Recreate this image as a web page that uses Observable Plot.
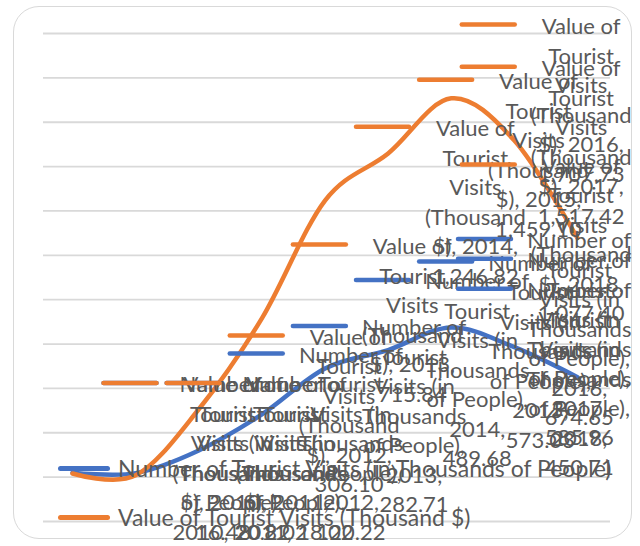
<!DOCTYPE html>
<html>
<head>
<meta charset="utf-8">
<script src="https://cdn.jsdelivr.net/npm/d3@7"></script>
<script src="https://cdn.jsdelivr.net/npm/@observablehq/plot@0.6"></script>
<style>
  html, body { margin: 0; padding: 0; background: #fff; }
  #wrap { position: relative; width: 640px; height: 546px; overflow: hidden; font-family: Lato, sans-serif; }
  #frameBox { position: absolute; left: 13px; top: 6px; width: 619px; height: 533px; border: 1.6px solid #d9d9d9; border-radius: 26px; box-sizing: border-box; }
  #caption { position: absolute; left: 300px; top: -29px; font-family: "Liberation Serif", serif; font-size: 26px; line-height: 30px; color: #000; white-space: nowrap; }
  #chart { position: absolute; left: 0; top: 0; }
  .leg { position: absolute; left: 58px; display: flex; align-items: center; white-space: nowrap; font-size: 23px; color: #595959; }
  .leg .key { width: 52px; height: 5px; border-radius: 3px; margin-right: 8px; }
</style>
</head>
<body>
<div id="wrap">
  <div id="caption">(Figure 1)</div>
  <div id="frameBox"></div>
  <div id="chart"></div>
</div>
<script>
// ---------------- data ----------------
const years = [2010, 2011, 2012, 2013, 2014, 2015, 2016, 2017, 2018];
const numberOfVisits = [20.22, 18.02, 120.22, 282.71, 489.68, 573.03, 674.65, 585.96, 450.71];
const valueOfVisits = [16.48, 8.02, 306.10, 715.84, 1246.82, 1459.10, 1707.73, 1517.42, 1077.40];
const seriesNames = ["Number of Tourist Visits (in Thousands of People)", "Value of Tourist Visits (Thousand $)"];
const gridTicks = [-200, 0, 200, 400, 600, 800, 1000, 1200, 1400, 1600, 1800, 2000];

// ---------------- styles / layout ----------------
const colors = ["#4472C4", "#ED7D31"];
const FS = 22, LH = 29.5;
const KEY = 53, GAP = 16;
const textFill = "#595959";
const xOpts = {type: "linear", domain: [2010, 2018], range: [72, 577]};
const yOpts = {type: "linear", domain: [-200, 2000], range: [521, 33]};

const series = [
  {name: seriesNames[0], values: numberOfVisits, color: colors[0]},
  {name: seriesNames[1], values: valueOfVisits, color: colors[1]}
];

let xs, ys;
try { xs = Plot.scale({x: xOpts}); ys = Plot.scale({y: yOpts}); }
catch (e) { const a = d3.scaleLinear(xOpts.domain, xOpts.range), b = d3.scaleLinear(yOpts.domain, yOpts.range); xs = {apply: a}; ys = {apply: b}; }

const ctx = document.createElement("canvas").getContext("2d");
ctx.font = `${FS}px Lato`;
const tw = s => ctx.measureText(s).width;
// wrap width: a short "year, value" pair fits on one line, "Tourist Visits" does not
const WRAP = Math.min(tw("2010, 20.22") + 1.5, tw("Tourist Visits") - 0.5);
function wrap(str) {
  const words = str.split(" ");
  const lines = [];
  let cur = "";
  for (const w of words) {
    const t = cur ? cur + " " + w : w;
    if (cur && tw(t) > WRAP) { lines.push(cur); cur = w; } else cur = t;
  }
  if (cur) lines.push(cur);
  return lines;
}
const fmt = d3.format(",.2f");

const keySymbol = {draw(context) { context.moveTo(0, 0); context.lineTo(KEY, 0); }};

const marks = [Plot.ruleY(gridTicks, {stroke: "#d9d9d9", strokeWidth: 1.8})];

for (const s of series) {
  const rows = years.map((year, i) => ({year, value: s.values[i]}));
  marks.push(Plot.line(rows, {x: "year", y: "value", stroke: s.color, strokeWidth: 4.5, curve: "cardinal", strokeLinecap: "round", strokeLinejoin: "round"}));
}

for (const s of series) {
  years.forEach((year, i) => {
    const value = s.values[i];
    const row = {year, value};
    const px = xs.apply(year), py = ys.apply(value);
    const lines = wrap(`${s.name}, ${year}, ${fmt(value)}`);
    const n = lines.length;
    const boxW = d3.max(lines, tw);
    const keyLeft = Math.min(px + 31, 631 - (KEY + GAP + boxW));
    let cy = py;
    let top = cy - (n - 1) / 2 * LH;
    if (top < 22) { cy += 22 - top; top = 22; }
    let bottom = cy + (n - 1) / 2 * LH;
    if (bottom > 530) { cy -= bottom - 530; top = cy - (n - 1) / 2 * LH; }
    marks.push(Plot.dot([row], {x: "year", y: "value", symbol: keySymbol, stroke: s.color, fill: "none", strokeWidth: 4.5, strokeLinecap: "round", dx: keyLeft - px, dy: top - py}));
    marks.push(Plot.text([row], {x: "year", y: "value", text: () => lines.join("\n"), dx: keyLeft + KEY + GAP + boxW / 2 - px, dy: cy - py, lineAnchor: "middle", lineHeight: LH / FS, fontSize: FS, fontFamily: "Lato", fill: textFill, textAnchor: "middle"}));
  });
}

const plot = Plot.plot({
  width: 640,
  height: 546,
  marginLeft: 43,
  marginRight: 30,
  marginTop: 0,
  marginBottom: 0,
  x: {...xOpts, axis: null},
  y: {...yOpts, axis: null},
  style: {background: "transparent", fontFamily: "Lato"},
  marks
});
document.getElementById("chart").appendChild(plot);

// legend (bottom-left, overlapping the plot as in the reference)
const legendTops = [468, 517];
series.forEach((s, i) => {
  const row = document.createElement("div");
  row.className = "leg";
  row.style.top = (legendTops[i] - 15) + "px";
  row.style.height = "30px";
  const key = document.createElement("span");
  key.className = "key";
  key.style.background = s.color;
  const label = document.createElement("span");
  label.textContent = s.name;
  row.appendChild(key);
  row.appendChild(label);
  document.getElementById("wrap").appendChild(row);
});
</script>
</body>
</html>
